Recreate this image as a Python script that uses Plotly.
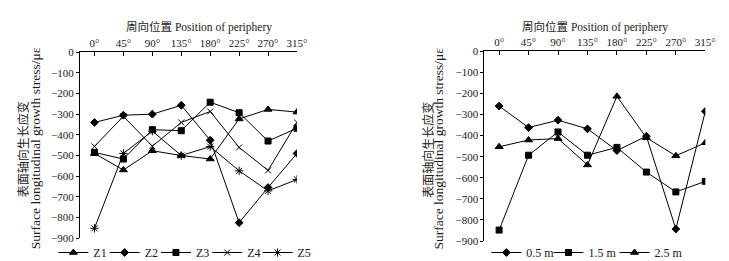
import plotly.graph_objects as go

positions = ["0°", "45°", "90°", "135°", "180°", "225°", "270°", "315°"]
idx = list(range(len(positions)))

# Left chart: stress per log section Z1..Z5 (με)
z1 = [-490, -570, -477, -500, -517, -323, -277, -290]
z2 = [-340, -305, -300, -257, -426, -825, -655, -490]
z3 = [-485, -517, -375, -380, -242, -293, -430, -368]
z4 = [-456, -310, -455, -340, -287, -461, -572, -340]
z5 = [-852, -490, -382, -500, -457, -574, -671, -616]

# Right chart: stress at heights 0.5 m, 1.5 m, 2.5 m (με)
h05 = [-260, -362, -327, -368, -471, -403, -843, -285]
h15 = [-848, -493, -383, -493, -456, -573, -667, -617]
h25 = [-453, -421, -414, -539, -214, -410, -496, -434]

yticks = list(range(0, -1000, -100))

FONT = "Liberation Serif, Times New Roman, serif"
CJK = "Noto Sans CJK SC"
TXT = "#1a1a1a"
W, H = 729, 261

fig = go.Figure()

left_series = [
    ("Z1", z1, "triangle-up", 7),
    ("Z2", z2, "diamond", 6),
    ("Z3", z3, "square", 6),
    ("Z4", z4, "x-thin-open", 6),
    ("Z5", z5, "asterisk-open", 7),
]
right_series = [
    ("0.5 m", h05, "diamond", 6),
    ("1.5 m", h15, "square", 6),
    ("2.5 m", h25, "triangle-up", 7),
]
# legend entry left edges (px), one small legend per entry
left_legend_x = [46, 98, 150, 202, 253]
right_legend_x = [485, 548, 615]

legends = {}
k = 0
for (name, ys, sym, sz), lx in zip(left_series, left_legend_x):
    k += 1
    lid = "legend" if k == 1 else f"legend{k}"
    legends[lid] = lx
    fig.add_trace(go.Scatter(
        x=idx, y=ys, name=name, mode="lines+markers",
        line=dict(color="black", width=1),
        marker=dict(symbol=sym, size=sz, color="black",
                    line=dict(color="black", width=1)),
        xaxis="x", yaxis="y", legend=lid))

for (name, ys, sym, sz), lx in zip(right_series, right_legend_x):
    k += 1
    lid = f"legend{k}"
    legends[lid] = lx
    fig.add_trace(go.Scatter(
        x=idx, y=ys, name=name, mode="lines+markers",
        line=dict(color="black", width=1),
        marker=dict(symbol=sym, size=sz, color="black",
                    line=dict(color="black", width=1)),
        xaxis="x2", yaxis="y2", legend=lid))

xcommon = dict(
    side="top", tickmode="array", tickvals=idx, ticktext=positions,
    range=[-0.5, 7], showline=True, linecolor="black", linewidth=1,
    ticks="inside", ticklen=4, tickcolor="black", showgrid=False,
    zeroline=False, tickfont=dict(family=FONT, size=11, color=TXT),
)
ycommon = dict(
    range=[-900, 0], tickmode="array", tickvals=yticks,
    showline=True, linecolor="black", linewidth=1,
    ticks="outside", ticklen=3, tickcolor="black", showgrid=False,
    zeroline=False, tickfont=dict(family=FONT, size=11, color=TXT),
)

layout_legends = {
    lid: dict(orientation="h", x=lx / W, y=1 - 250 / H, xanchor="left",
              yanchor="middle", font=dict(family=FONT, size=12, color=TXT),
              bgcolor="rgba(0,0,0,0)", itemwidth=30)
    for lid, lx in legends.items()
}

fig.update_layout(
    width=W, height=H,
    margin=dict(l=0, r=0, t=0, b=0),
    paper_bgcolor="white", plot_bgcolor="white",
    xaxis=dict(domain=[73 / W, 293 / W], anchor="y", **xcommon),
    yaxis=dict(domain=[1 - 235 / H, 1 - 40 / H], anchor="x", **ycommon),
    xaxis2=dict(domain=[483 / W, 707 / W], anchor="y2", **xcommon),
    yaxis2=dict(domain=[1 - 238 / H, 1 - 39 / H], anchor="x2", **ycommon),
    showlegend=True,
    **layout_legends,
)

title_cn = "周向位置"
title_en = "Position of periphery"
ytitle_cn = "表面轴向生长应变"
ytitle_en = "Surface longitudinal growth stress/με"

for cx in (194, 595):
    fig.add_annotation(
        xref="paper", yref="paper", x=cx / W, y=1 - 13 / H,
        text=f"<span style='font-family:{CJK}'>{title_cn}</span> {title_en}",
        showarrow=False, font=dict(family=FONT, size=11.5, color=TXT),
        xanchor="center", yanchor="middle")

for cnx, enx, cy in ((15, 28, 141), (425, 437, 141)):
    fig.add_annotation(
        xref="paper", yref="paper", x=cnx / W, y=1 - (cy + 1) / H,
        text=ytitle_cn, textangle=-90, showarrow=False,
        font=dict(family=CJK, size=12, color=TXT),
        xanchor="center", yanchor="middle")
    fig.add_annotation(
        xref="paper", yref="paper", x=enx / W, y=1 - cy / H,
        text=ytitle_en, textangle=-90, showarrow=False,
        font=dict(family=FONT, size=13.5, color=TXT),
        xanchor="center", yanchor="middle")

fig.write_html("out.html")
